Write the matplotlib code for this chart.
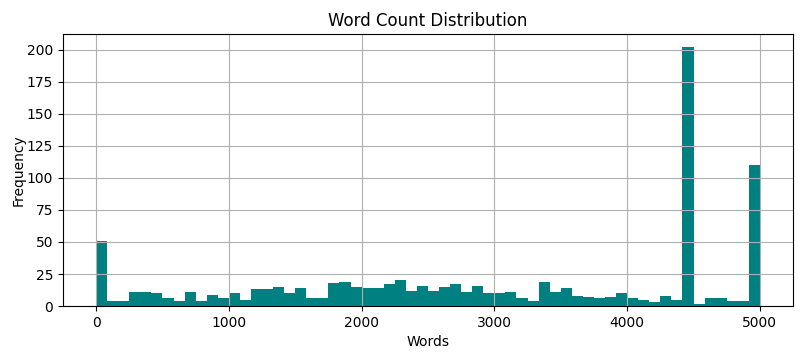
import numpy as np
import matplotlib.pyplot as plt

# histogram counts per bin (60 bins from 0 to 5000 words)
counts = [51, 4, 4, 11, 11, 10, 6, 4, 11, 4,
          9, 6, 10, 5, 13, 13, 15, 10, 14, 6,
          6, 18, 19, 15, 14, 14, 17, 20, 12, 16,
          12, 15, 17, 11, 16, 10, 10, 11, 6, 4,
          19, 11, 14, 8, 7, 6, 7, 10, 6, 5,
          3, 8, 5, 202, 2, 6, 6, 4, 4, 110]
word_min = 0
word_max = 5000

edges = np.linspace(word_min, word_max, len(counts) + 1)

fig, ax = plt.subplots(figsize=(8.06, 3.58), dpi=100)
ax.hist(edges[:-1], bins=edges, weights=counts, color='teal')
ax.set_title('Word Count Distribution')
ax.set_xlabel('Words')
ax.set_ylabel('Frequency', labelpad=1)
ax.grid(True)  # grid drawn over the bars, as in the original
fig.subplots_adjust(left=0.078, right=0.984, top=0.905, bottom=0.145)
fig.savefig('out.png')
